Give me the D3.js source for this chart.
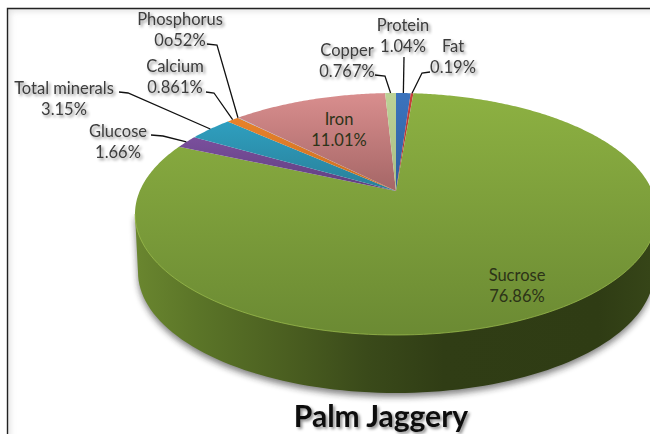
<!DOCTYPE html>
<html><head><meta charset="utf-8">
<script src="https://cdn.jsdelivr.net/npm/d3@7"></script>
<style>html,body{margin:0;padding:0;background:#fff}svg{display:block}</style>
</head><body><svg id="c" width="650" height="434"></svg>
<script>
const categories=["Protein","Fat","Sucrose","Glucose","Total minerals","Calcium","Phosphorus","Iron","Copper"];
const values=[1.04,0.19,76.86,1.66,3.15,0.861,0.052,11.01,0.767];
const valueLabels=["1.04%","0.19%","76.86%","1.66%","3.15%","0.861%","0o52%","11.01%","0.767%"];
const title="Palm Jaggery";
const topColors=["#3b73bd","#c8403c","#8db142","#7a4f9c","#2f9fbf","#e8822a","#8fb4dd","#d98e8e","#bcd296"];
const botColors=["#2f5f9f","#a93430","#6b8a33","#5f3f80","#287f99","#c96f22","#7a9cc4","#a56666","#a9bd85"];

/* layout only: label centres/baselines and leader elbows */
const labelX=[403,453,517,118,64,175,180,339,347];
const labelY=[31,52,281,137,94,72,25,125,56];
const leaderStart=[[404,57],[430,72],null,[151,135],[119,92],[206,92],[207,44],null,[375,75]];
const leaderElbow=[null,[422,73],null,[163,136],[128,93],[214,93],[217,45],null,[385,76]];

const svg=d3.select("#c"),W=650,H=434;
const cx=396,cy=214,rx=261,ry=121,k=-0.19,depth=58,rxB=258;
const sx=d3.scaleLinear().domain([-1,1]).range([cx-rx,cx+rx]);
const sy=d3.scaleLinear().domain([-1,1]).range([cy-ry,cy+ry]);
/* perspective tilt of the pie disc: centre moves up within the rim */
function proj(a,r){const X=r*Math.sin(a),Y=-r*Math.cos(a),d=1+k*Y;
  return [sx(X*Math.sqrt(1-k*k)/d),sy((Y+k)/d)];}
const defs=svg.append("defs");
const blur=(id,s)=>defs.append("filter").attr("id",id).attr("x","-20%").attr("y","-40%").attr("width","140%").attr("height","180%")
  .append("feGaussianBlur").attr("stdDeviation",s);
blur("b3",3);
const shadowFilter=(id,dev,op)=>{defs.append("filter").attr("id",id).attr("x","-10%").attr("y","-10%").attr("width","120%").attr("height","120%")
  .append("feDropShadow").attr("dx",2).attr("dy",2).attr("stdDeviation",dev).attr("flood-color","#000").attr("flood-opacity",op);};
shadowFilter("ts",1.6,.45);
const grad=(id,attrs,stops)=>{const g=defs.append("linearGradient").attr("id",id);
  Object.entries(attrs).forEach(([a,b])=>g.attr(a,b));
  stops.forEach(([o,c])=>g.append("stop").attr("offset",o).attr("stop-color",c));};
categories.forEach((c,i)=>grad("s"+i,{x1:0,y1:0,x2:0,y2:1},[[0,topColors[i]],[1,botColors[i]]]));
grad("wall",{gradientUnits:"userSpaceOnUse",x1:135,y1:0,x2:650,y2:0},
 [[0,"#6a862f"],[.12,"#5b7528"],[.3,"#4a5e20"],[.45,"#3a4a1a"],[.6,"#303d15"],[.9,"#2f3c14"],[1,"#364518"]]);

/* frame with soft inner glow */
svg.append("rect").attr("x",7).attr("y",8).attr("width",700).attr("height",500)
  .attr("fill","none").attr("stroke","#aaa").attr("stroke-width",5).attr("filter","url(#b3)").attr("opacity",.45);
svg.append("rect").attr("x",0).attr("y",0).attr("width",7).attr("height",H).attr("fill","#fff");
svg.append("rect").attr("x",0).attr("y",0).attr("width",W).attr("height",8).attr("fill","#fff");
svg.append("path").attr("d",d3.line()([[7.5,H],[7.5,8.5],[W,8.5]])).attr("fill","none").attr("stroke","#222").attr("stroke-width",1.4);

/* side wall */
const line=d3.line();
const angles=d3.range(0,181,2).map(d=>d*Math.PI/180);
const wallPts=angles.map(a=>[cx+rxB*Math.cos(a),cy+depth+ry*Math.sin(a)]);
const wall=[[cx+rx,cy],...wallPts,[cx-rx,cy]];
svg.append("path").attr("d",line(wall)+"Z").attr("transform","translate(0,4)").attr("fill","#222").attr("opacity",.55).attr("filter","url(#b3)");
svg.append("path").attr("d",line(wall)+"Z").attr("fill","url(#wall)");

/* top slices */
const pie=d3.pie().sort(null).value(d=>d)(values);
const slicePts=p=>{const n=Math.max(2,Math.ceil((p.endAngle-p.startAngle)/0.01));
  return [proj(0,0),...d3.range(n+1).map(i=>proj(p.startAngle+(p.endAngle-p.startAngle)*i/n,1))];};
svg.selectAll("path.slice").data(pie).join("path").attr("class","slice")
  .attr("d",p=>line(slicePts(p))+"Z").attr("fill",(p,i)=>`url(#s${i})`);
/* rim highlight along lower edge */
svg.append("path").attr("d",line(d3.range(0,181,2).map(d=>{const a=d*Math.PI/180;return [cx+rx*Math.cos(a),cy+ry*Math.sin(a)];})))
  .attr("fill","none").attr("stroke","#a0c050").attr("stroke-width",1).attr("opacity",.7);

/* leaders */
svg.selectAll("path.leader").data(pie.filter((p,i)=>leaderStart[i])).join("path").attr("class","leader")
 .attr("d",p=>{const i=p.index,m=(p.startAngle+p.endAngle)/2,e=proj(m,1);
   const pts=[leaderStart[i]];if(leaderElbow[i])pts.push(leaderElbow[i]);
   pts.push(e);return line(pts);})
 .attr("fill","none").attr("stroke","#111").attr("stroke-width",1.3);

/* labels */
const fam="Lato, Carlito, 'Open Sans', sans-serif";
function label(g,x,y,t,size,col,weight){g.append("text").attr("x",x).attr("y",y).attr("text-anchor","middle")
  .attr("font-family",fam).attr("font-size",size).attr("font-weight",weight||400).attr("fill",col).text(t);}
const outer=svg.append("g").attr("filter","url(#ts)");
const inner=svg.append("g");
categories.forEach((c,i)=>{
  const onPie=(c==="Sucrose"||c==="Iron"),g=onPie?inner:outer,col=onPie?"#2c3318":"#3c3c3c";
  label(g,labelX[i],labelY[i],c,16.5,col);
  label(g,labelX[i],labelY[i]+21,valueLabels[i],16.5,col);
});
label(outer,381,427,title,30,"#111",700);
</script></body></html>
